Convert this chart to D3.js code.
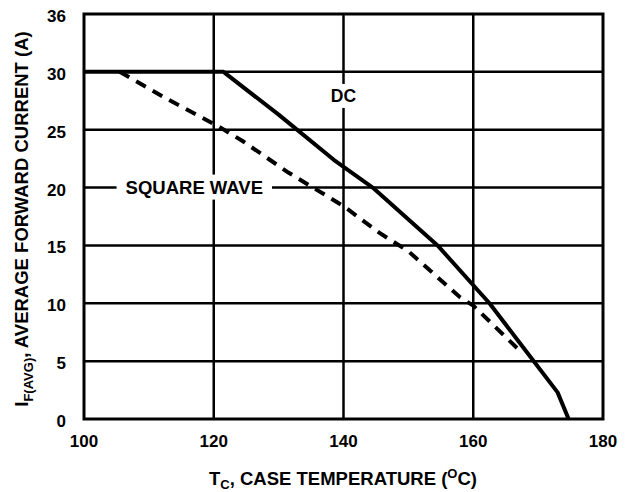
<!DOCTYPE html>
<html>
<head>
<meta charset="utf-8">
<script src="https://cdn.jsdelivr.net/npm/d3@7"></script>
<style>
  body { margin: 0; background: #fff; }
  text { font-family: "Liberation Sans", Arial, sans-serif; font-weight: bold; fill: #000; }
</style>
</head>
<body>
<svg id="chart" width="635" height="492"></svg>
<script>
const width = 635, height = 492;
const svg = d3.select("#chart");

// data
const xTicks = [100, 120, 140, 160, 180];
const yTicks = [0, 5, 10, 15, 20, 25, 30, 35];
const yTickLabels = ["0", "5", "10", "15", "20", "25", "30", "36"]; // top line is labelled 36 on the original
const dcTemp = [100, 121.5, 130, 138.5, 144.5, 154.5, 162.5, 167, 173, 174.7];
const dcCurrent = [30, 30, 26.3, 22.4, 20, 15, 10, 6.7, 2.3, 0];
const sqTemp = [105.5, 113, 117, 121, 124.5, 131.5, 140, 145.5, 150, 158, 160, 167];
const sqCurrent = [30, 27.6, 26.4, 25.2, 24, 21.3, 18.4, 16.1, 14.5, 10.5, 9.8, 6];

const x = d3.scaleLinear().domain([100, 180]).range([84, 603]);
const y = d3.scaleLinear().domain([0, 35]).range([419, 14]);

// grid
const grid = svg.append("g");
grid.selectAll(".vgrid")
    .data(xTicks.slice(1, -1))
    .enter().append("line")
    .attr("x1", d => x(d)).attr("x2", d => x(d))
    .attr("y1", y(0)).attr("y2", y(35))
    .attr("stroke", "#000").attr("stroke-width", 2.5);
grid.selectAll(".hgrid")
    .data(yTicks.slice(1, -1))
    .enter().append("line")
    .attr("x1", x(100)).attr("x2", x(180))
    .attr("y1", d => y(d)).attr("y2", d => y(d))
    .attr("stroke", "#000").attr("stroke-width", 2.5);

grid.append("rect")
    .attr("x", x(100)).attr("y", y(35))
    .attr("width", x(180) - x(100)).attr("height", y(0) - y(35))
    .attr("fill", "none").attr("stroke", "#000").attr("stroke-width", 3);

// curve labels with white boxes that break the grid lines
function label(txt, tx, ty, size, pad) {
    const t = svg.append("text")
        .attr("x", tx).attr("y", ty)
        .attr("text-anchor", "middle")
        .attr("font-size", size)
        .text(txt);
    const b = t.node().getBBox();
    svg.insert("rect", "text")
        .attr("x", b.x - pad).attr("y", b.y - 2)
        .attr("width", b.width + pad * 2).attr("height", b.height + 4)
        .attr("fill", "#fff");
}

// curves
const line = d3.line().x(d => x(d[0])).y(d => y(d[1]));
svg.append("path")
    .datum(d3.zip(dcTemp, dcCurrent))
    .attr("d", line)
    .attr("fill", "none").attr("stroke", "#000")
    .attr("stroke-width", 4).attr("stroke-linejoin", "round");
svg.append("path")
    .datum(d3.zip(sqTemp, sqCurrent))
    .attr("d", line)
    .attr("fill", "none").attr("stroke", "#000")
    .attr("stroke-width", 4).attr("stroke-dasharray", "11,8");

label("DC", x(140), y(27.4), 17.5, 3);
label("SQUARE WAVE", x(117), y(20) + 6, 18.5, 9);

// tick labels
svg.selectAll(".xlab")
    .data(xTicks)
    .enter().append("text")
    .attr("x", d => x(d)).attr("y", 447)
    .attr("text-anchor", "middle")
    .attr("font-size", 17)
    .text(d => d);
svg.selectAll(".ylab")
    .data(yTicks)
    .enter().append("text")
    .attr("x", 66).attr("y", d => y(d) + 8)
    .attr("text-anchor", "end")
    .attr("font-size", 17)
    .text((d, i) => yTickLabels[i]);

// axis titles
const xt = svg.append("text")
    .attr("x", 343).attr("y", 485)
    .attr("text-anchor", "middle")
    .attr("font-size", 18.5);
xt.append("tspan").text("T");
xt.append("tspan").attr("font-size", 13).attr("dy", 4).text("C");
xt.append("tspan").attr("dy", -4).text(", CASE TEMPERATURE (");
xt.append("tspan").attr("font-size", 13).attr("dy", -7).text("O");
xt.append("tspan").attr("dy", 7).text("C)");

const yt = svg.append("text")
    .attr("transform", "translate(28,219) rotate(-90)")
    .attr("text-anchor", "middle")
    .attr("font-size", 18.5);
yt.append("tspan").text("I");
yt.append("tspan").attr("font-size", 13).attr("dy", 5).text("F(AVG)");
yt.append("tspan").attr("dy", -5).text(", AVERAGE FORWARD CURRENT (A)");
</script>
</body>
</html>
